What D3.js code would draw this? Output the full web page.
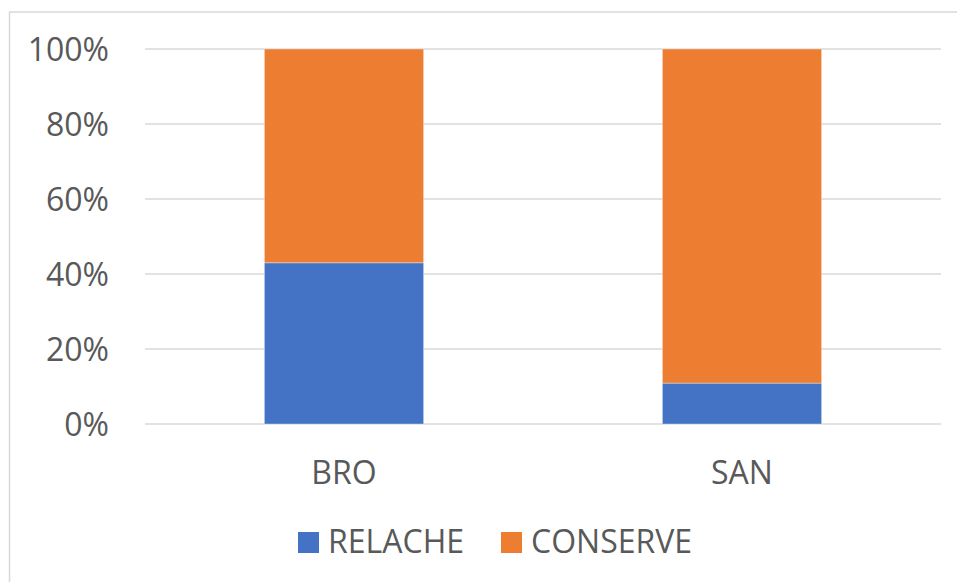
<!DOCTYPE html>
<html>
<head>
<meta charset="utf-8">
<script src="https://cdn.jsdelivr.net/npm/d3@7"></script>
<style>
  html, body { margin: 0; padding: 0; background: #fff; }
  svg { display: block; }
  text { font-family: "Open Sans", "Liberation Sans", sans-serif; fill: #595959; }
</style>
</head>
<body>
<svg id="chart" width="957" height="582"></svg>
<script>
// Stacked 100% columns: share of RELACHE vs CONSERVE per site
const categories = ["BRO", "SAN"];
const seriesNames = ["RELACHE", "CONSERVE"];
const relache = [0.43, 0.109];
const conserve = [0.57, 0.891];
const yTicks = [0, 0.2, 0.4, 0.6, 0.8, 1.0];
const colors = ["#4472C4", "#ED7D31"];

const svg = d3.select("#chart");
const W = 957, H = 582;
const FONT = 32;

// outer chart frame
svg.append("rect")
  .attr("x", 9.5).attr("y", 12).attr("width", W + 20).attr("height", H + 20)
  .attr("fill", "#fff").attr("stroke", "#d9d9d9").attr("stroke-width", 1.5);

const plot = { left: 145, right: 941, top: 49, bottom: 424 };

const x = d3.scaleBand()
  .domain(categories)
  .range([plot.left, plot.right])
  .paddingInner(0.6)
  .paddingOuter(0.3);

const y = d3.scaleLinear().domain([0, 1]).range([plot.bottom, plot.top]);

// gridlines
svg.append("g")
  .selectAll("line")
  .data(yTicks)
  .join("line")
  .attr("x1", plot.left).attr("x2", plot.right)
  .attr("y1", d => y(d)).attr("y2", d => y(d))
  .attr("stroke", "#d9d9d9").attr("stroke-width", 1.5);

// y axis labels
const yAxis = d3.axisLeft(y).tickValues(yTicks).tickFormat(d3.format(".0%")).tickSize(0).tickPadding(0);
const gy = svg.append("g").attr("transform", `translate(109,0)`).call(yAxis);
gy.select(".domain").remove();
gy.selectAll("text")
  .attr("font-size", FONT)
  .attr("font-family", "'Open Sans', 'Liberation Sans', sans-serif")
  .attr("fill", "#595959")
  .attr("dy", "0.36em");

// stacked data
const rows = categories.map((c, i) => ({ cat: c, RELACHE: relache[i], CONSERVE: conserve[i] }));
const stacked = d3.stack().keys(seriesNames)(rows);

svg.append("g")
  .selectAll("g")
  .data(stacked)
  .join("g")
  .attr("fill", (d, i) => colors[i])
  .selectAll("rect")
  .data(d => d)
  .join("rect")
  .attr("x", d => x(d.data.cat))
  .attr("width", x.bandwidth())
  .attr("y", d => y(d[1]))
  .attr("height", d => y(d[0]) - y(d[1]))
  .attr("stroke", "#ffffff")
  .attr("stroke-opacity", 0.35)
  .attr("stroke-width", 1);

// x axis labels
const xAxis = d3.axisBottom(x).tickSize(0).tickPadding(0);
const gx = svg.append("g").attr("transform", `translate(0,${plot.bottom})`).call(xAxis);
gx.select(".domain").remove();
gx.selectAll("text")
  .attr("font-size", FONT)
  .attr("font-family", "'Open Sans', 'Liberation Sans', sans-serif")
  .attr("fill", "#595959")
  .attr("y", 60).attr("dy", 0);

// legend
const legendItems = [
  { name: seriesNames[0], color: colors[0], x: 298 },
  { name: seriesNames[1], color: colors[1], x: 501 }
];
const lg = svg.append("g");
legendItems.forEach(it => {
  lg.append("rect").attr("x", it.x).attr("y", 532).attr("width", 21).attr("height", 21).attr("fill", it.color);
  lg.append("text").attr("x", it.x + 30).attr("y", 553)
    .attr("font-size", FONT).text(it.name);
});
</script>
</body>
</html>
